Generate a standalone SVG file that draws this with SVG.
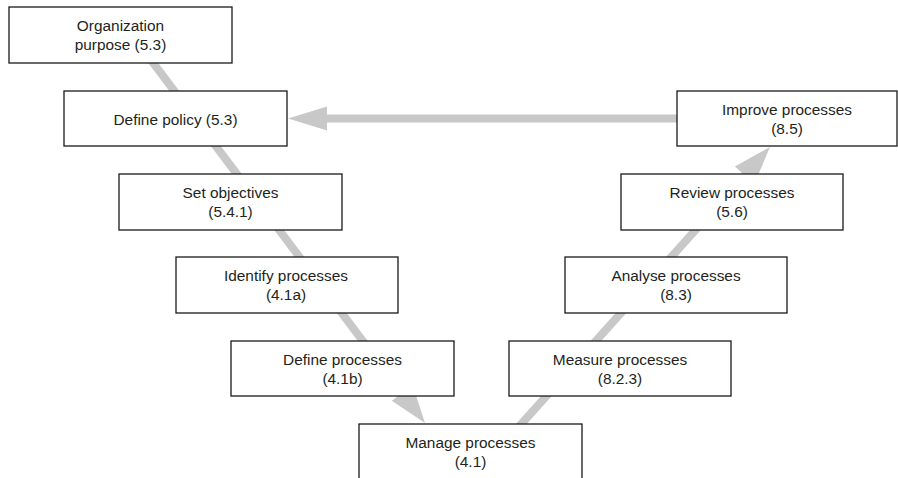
<svg xmlns="http://www.w3.org/2000/svg" width="898" height="478" viewBox="0 0 898 478">
<style>
.box{fill:#fff;stroke:#1a1a1a;stroke-width:1.3}
.t{font-family:"Liberation Sans",Arial,sans-serif;font-size:15.4px;fill:#231f20;text-anchor:middle}
.ln{stroke:#c8c8c8;stroke-width:8;fill:none}
.ah{fill:#c8c8c8}
</style>
<rect width="898" height="478" fill="#fff"/>
<g id="connectors">
<line class="ln" x1="151" y1="60" x2="402" y2="393"/>
<polygon class="ah" points="425,423 412.6,385.2 391.8,400.8"/>
<line class="ln" x1="518.6" y1="427" x2="744.6" y2="175.3"/>
<polygon class="ah" points="770,147 734.9,166.6 754.3,184"/>
<line class="ln" x1="327" y1="118.5" x2="676" y2="118.5" stroke-linecap="round"/>
<polygon class="ah" points="288,118.5 327,106.5 327,130.5"/>
</g>
<g id="n-org"><rect class="box" x="9" y="7" width="223" height="56"/><text class="t" x="120.5" y="31">Organization</text><text class="t" x="120.5" y="50">purpose (5.3)</text></g>
<g id="n-policy"><rect class="box" x="64" y="91" width="223" height="55"/><text class="t" x="175.5" y="125">Define policy (5.3)</text></g>
<g id="n-objectives"><rect class="box" x="119" y="174" width="223" height="56"/><text class="t" x="230.5" y="198">Set objectives</text><text class="t" x="230.5" y="217">(5.4.1)</text></g>
<g id="n-identify"><rect class="box" x="176" y="257" width="222" height="56"/><text class="t" x="286" y="281">Identify processes</text><text class="t" x="286" y="300">(4.1a)</text></g>
<g id="n-define"><rect class="box" x="231" y="341" width="223" height="55"/><text class="t" x="342.5" y="365">Define processes</text><text class="t" x="342.5" y="384">(4.1b)</text></g>
<g id="n-manage"><rect class="box" x="359" y="424" width="223" height="70"/><text class="t" x="470.5" y="448">Manage processes</text><text class="t" x="470.5" y="467">(4.1)</text></g>
<g id="n-measure"><rect class="box" x="509" y="341" width="222" height="55"/><text class="t" x="620" y="365">Measure processes</text><text class="t" x="620" y="384">(8.2.3)</text></g>
<g id="n-analyse"><rect class="box" x="565" y="257" width="222" height="56"/><text class="t" x="676" y="281">Analyse processes</text><text class="t" x="676" y="300">(8.3)</text></g>
<g id="n-review"><rect class="box" x="621" y="174" width="222" height="56"/><text class="t" x="732" y="198">Review processes</text><text class="t" x="732" y="217">(5.6)</text></g>
<g id="n-improve"><rect class="box" x="677" y="91" width="220" height="55"/><text class="t" x="787" y="115">Improve processes</text><text class="t" x="787" y="134">(8.5)</text></g>
</svg>
